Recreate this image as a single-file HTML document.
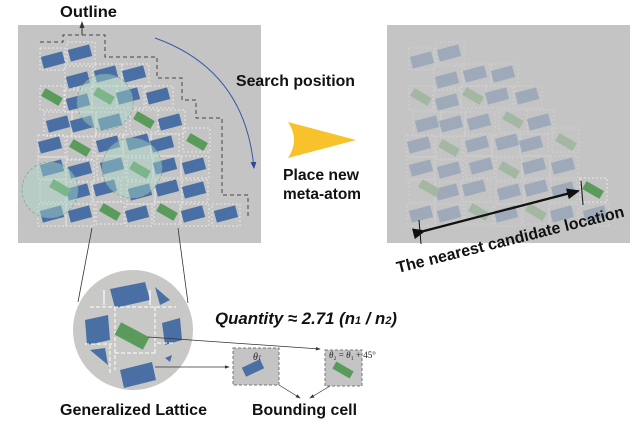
<!DOCTYPE html>
<html><head><meta charset="utf-8"><style>
html,body{margin:0;padding:0;background:#fff;}
svg{display:block;font-family:"Liberation Sans",Arial,sans-serif;}
</style></head><body>
<svg width="639" height="431" viewBox="0 0 639 431" xmlns="http://www.w3.org/2000/svg">
<defs>
<g id="cells">
<g fill="none" stroke="#f2f2f2" stroke-width="0.8" stroke-dasharray="2,2">
<rect x="40" y="48" width="25" height="22"/><rect x="67" y="42" width="28" height="22"/>
<rect x="65" y="66" width="28" height="22"/><rect x="95" y="64" width="27" height="22"/><rect x="122" y="64" width="27" height="22"/>
<rect x="40" y="86" width="24" height="24"/><rect x="65" y="90" width="27" height="22"/><rect x="92" y="86" width="25" height="22"/><rect x="117" y="86" width="27" height="22"/><rect x="146" y="86" width="27" height="22"/>
<rect x="44" y="112" width="28" height="24"/><rect x="72" y="112" width="24" height="24"/><rect x="96" y="112" width="30" height="24"/><rect x="130" y="110" width="28" height="22"/><rect x="158" y="110" width="27" height="24"/>
<rect x="38" y="135" width="27" height="22"/><rect x="67" y="137" width="26" height="22"/><rect x="95" y="134" width="28" height="22"/><rect x="123" y="134" width="28" height="22"/><rect x="151" y="134" width="28" height="22"/><rect x="183" y="128" width="27" height="24"/>
<rect x="38" y="157" width="28" height="22"/><rect x="66" y="160" width="28" height="22"/><rect x="97" y="156" width="28" height="22"/><rect x="127" y="158" width="26" height="22"/><rect x="153" y="156" width="28" height="22"/><rect x="181" y="156" width="28" height="22"/>
<rect x="40" y="180" width="26" height="22"/><rect x="66" y="182" width="26" height="22"/><rect x="93" y="180" width="28" height="22"/><rect x="127" y="182" width="28" height="22"/><rect x="155" y="180" width="27" height="22"/><rect x="182" y="180" width="26" height="22"/>
<rect x="38" y="204" width="28" height="22"/><rect x="66" y="204" width="28" height="22"/><rect x="96" y="202" width="28" height="22"/><rect x="126" y="204" width="26" height="22"/><rect x="154" y="202" width="26" height="22"/><rect x="181" y="204" width="28" height="22"/><rect x="212" y="204" width="28" height="22"/>
</g>
<g fill="#4a6fa5">
<rect x="-11" y="-6" width="22" height="12" transform="translate(53,60) rotate(-15)"/>
<rect x="-11" y="-6" width="22" height="12" transform="translate(80,53) rotate(-15)"/>
<rect x="-11" y="-6" width="22" height="12" transform="translate(78,80) rotate(-15)"/>
<rect x="-11" y="-6" width="22" height="12" transform="translate(106,74) rotate(-15)"/>
<rect x="-11" y="-6" width="22" height="12" transform="translate(134,74) rotate(-15)"/>
<rect x="-11" y="-6" width="22" height="12" transform="translate(78,102) rotate(-15)"/>
<rect x="-11" y="-6" width="22" height="12" transform="translate(128,96) rotate(-15)"/>
<rect x="-11" y="-6" width="22" height="12" transform="translate(158,96) rotate(-15)"/>
<rect x="-11" y="-6" width="22" height="12" transform="translate(58,124) rotate(-15)"/>
<rect x="-11" y="-6" width="22" height="12" transform="translate(82,124) rotate(-15)"/>
<rect x="-11" y="-6" width="22" height="12" transform="translate(110,122) rotate(-15)"/>
<rect x="-11" y="-6" width="22" height="12" transform="translate(170,122) rotate(-15)"/>
<rect x="-11" y="-6" width="22" height="12" transform="translate(50,145) rotate(-15)"/>
<rect x="-11" y="-6" width="22" height="12" transform="translate(108,144) rotate(-15)"/>
<rect x="-11" y="-6" width="22" height="12" transform="translate(138,142) rotate(-15)"/>
<rect x="-11" y="-6" width="22" height="12" transform="translate(162,144) rotate(-15)"/>
<rect x="-11" y="-6" width="22" height="12" transform="translate(52,168) rotate(-15)"/>
<rect x="-11" y="-6" width="22" height="12" transform="translate(80,170) rotate(-15)"/>
<rect x="-11" y="-6" width="22" height="12" transform="translate(112,166) rotate(-15)"/>
<rect x="-11" y="-6" width="22" height="12" transform="translate(165,166) rotate(-15)"/>
<rect x="-11" y="-6" width="22" height="12" transform="translate(194,166) rotate(-15)"/>
<rect x="-11" y="-6" width="22" height="12" transform="translate(78,192) rotate(-15)"/>
<rect x="-11" y="-6" width="22" height="12" transform="translate(105,188) rotate(-15)"/>
<rect x="-11" y="-6" width="22" height="12" transform="translate(140,192) rotate(-15)"/>
<rect x="-11" y="-6" width="22" height="12" transform="translate(167,188) rotate(-15)"/>
<rect x="-11" y="-6" width="22" height="12" transform="translate(194,190) rotate(-15)"/>
<rect x="-11" y="-6" width="22" height="12" transform="translate(52,214) rotate(-15)"/>
<rect x="-11" y="-6" width="22" height="12" transform="translate(80,214) rotate(-15)"/>
<rect x="-11" y="-6" width="22" height="12" transform="translate(137,214) rotate(-15)"/>
<rect x="-11" y="-6" width="22" height="12" transform="translate(193,214) rotate(-15)"/>
<rect x="-11" y="-6" width="22" height="12" transform="translate(226,214) rotate(-15)"/>
</g>
<g fill="#5a9a5a">
<rect x="-10" y="-4.5" width="20" height="9" transform="translate(52,97) rotate(30)"/>
<rect x="-10" y="-4.5" width="20" height="9" transform="translate(104,96) rotate(30)"/>
<rect x="-10" y="-4.5" width="20" height="9" transform="translate(144,120) rotate(30)"/>
<rect x="-10" y="-4.5" width="20" height="9" transform="translate(80,148) rotate(30)"/>
<rect x="-10" y="-4.5" width="20" height="9" transform="translate(197,142) rotate(30)"/>
<rect x="-10" y="-4.5" width="20" height="9" transform="translate(140,170) rotate(30)"/>
<rect x="-10" y="-4.5" width="20" height="9" transform="translate(60,188) rotate(30)"/>
<rect x="-10" y="-4.5" width="20" height="9" transform="translate(110,212) rotate(30)"/>
<rect x="-10" y="-4.5" width="20" height="9" transform="translate(167,212) rotate(30)"/>
</g>
</g>
<marker id="ab" markerWidth="8" markerHeight="8" refX="6" refY="4" orient="auto"><path d="M0,1 L7,4 L0,7 z" fill="#2a4a9a"/></marker>
<marker id="ak" markerWidth="8" markerHeight="8" refX="6" refY="4" orient="auto"><path d="M0,1.5 L7,4 L0,6.5 z" fill="#333"/></marker>
<marker id="big" markerWidth="6" markerHeight="6" refX="5" refY="3" orient="auto"><path d="M0,0.5 L6,3 L0,5.5 z" fill="#111"/></marker>
</defs>

<rect x="18" y="25" width="243" height="218" fill="#c4c4c4"/>
<use href="#cells"/>
<g fill="#a6d8c6" fill-opacity="0.45" stroke="#7a9a8a" stroke-width="0.6" stroke-dasharray="3,2">
<circle cx="105" cy="102" r="28"/><circle cx="132" cy="168" r="30"/><circle cx="50" cy="190" r="28"/>
</g>
<path d="M40,42 H63 V35 H105 V57 H157 V78 H182 V100 H196 V118 H222 V195 H248 V216" fill="none" stroke="#444" stroke-width="1" stroke-dasharray="4,3"/>
<line x1="82" y1="35" x2="82" y2="22" stroke="#333" stroke-width="1" marker-end="url(#ak)"/>
<text x="60" y="17" font-size="16" font-weight="bold" fill="#111" textLength="57" lengthAdjust="spacingAndGlyphs">Outline</text>
<path d="M155,38 Q245,70 254,168" fill="none" stroke="#3a5aa8" stroke-width="1" marker-end="url(#ab)"/>

<text x="236" y="86" font-size="16" font-weight="bold" fill="#111" textLength="119" lengthAdjust="spacingAndGlyphs">Search position</text>
<path d="M288,122 L356,140 L288,158 Q300,140 288,122 z" fill="#f7c22a"/>
<text x="283" y="180" font-size="16" font-weight="bold" fill="#111" textLength="76" lengthAdjust="spacingAndGlyphs">Place new</text>
<text x="283" y="199" font-size="16" font-weight="bold" fill="#111" textLength="78" lengthAdjust="spacingAndGlyphs">meta-atom</text>

<rect x="387" y="25" width="243" height="218" fill="#c4c4c4"/>
<g opacity="0.3" transform="translate(369,0)"><use href="#cells"/></g>
<rect x="580" y="178" width="27" height="24" fill="none" stroke="#f2f2f2" stroke-width="0.8" stroke-dasharray="2,2"/>
<rect x="-10" y="-4.5" width="20" height="9" transform="translate(593,190) rotate(30)" fill="#5a9a5a"/>
<line x1="419" y1="220" x2="421" y2="244" stroke="#111" stroke-width="1"/>
<line x1="581" y1="181" x2="583" y2="205" stroke="#111" stroke-width="1"/>
<line x1="424" y1="231" x2="578" y2="191" stroke="#111" stroke-width="2.2" marker-start="url(#big)" marker-end="url(#big)"/>
<text transform="translate(398,273) rotate(-14)" font-size="16" font-weight="bold" fill="#111" textLength="234" lengthAdjust="spacingAndGlyphs">The nearest candidate location</text>

<line x1="92" y1="228" x2="78" y2="302" stroke="#333" stroke-width="0.8"/>
<line x1="178" y1="228" x2="188" y2="303" stroke="#333" stroke-width="0.8"/>
<circle cx="133" cy="330" r="60" fill="#c8c8c6"/>
<clipPath id="cc"><circle cx="133" cy="330" r="60"/></clipPath>
<g clip-path="url(#cc)" fill="#4a6fa5">
<path d="M110,289 L145,282 L150,300 L115,308 z"/>
<path d="M155,287 L170,300 L160,305 z"/>
<path d="M85,320 L108,315 L110,340 L87,345 z"/>
<path d="M162,323 L180,318 L182,340 L165,345 z"/>
<path d="M90,350 L105,348 L108,365 z"/>
<path d="M120,370 L152,362 L156,380 L124,388 z"/>
<path d="M165,358 L172,355 L170,362 z"/>
</g>
<g clip-path="url(#cc)" fill="none" stroke="#fff" stroke-width="1" stroke-dasharray="4,2">
<line x1="90" y1="307" x2="176" y2="307"/><line x1="115" y1="307" x2="115" y2="370"/>
<line x1="155" y1="307" x2="155" y2="355"/><line x1="85" y1="344" x2="112" y2="344"/>
<line x1="115" y1="353" x2="155" y2="353"/><line x1="157" y1="343" x2="175" y2="343"/>
<line x1="110" y1="345" x2="110" y2="375"/>
</g>
<g stroke="#fff" stroke-width="1.2"><line x1="104" y1="290" x2="104" y2="305"/><line x1="150" y1="290" x2="150" y2="305"/></g>
<rect x="-16" y="-7" width="32" height="14" transform="translate(132,336) rotate(28)" fill="#5a9a5a"/>
<text x="60" y="415" font-size="16" font-weight="bold" fill="#111" textLength="147" lengthAdjust="spacingAndGlyphs">Generalized Lattice</text>

<text x="215" y="324" font-size="17" font-weight="bold" font-style="italic" fill="#111" textLength="182" lengthAdjust="spacingAndGlyphs">Quantity ≈ 2.71 (n<tspan font-size="11">1</tspan> / n<tspan font-size="11">2</tspan>)</text>

<line x1="148" y1="337" x2="320" y2="349" stroke="#333" stroke-width="0.7" marker-end="url(#ak)"/>
<line x1="155" y1="367" x2="229" y2="367" stroke="#333" stroke-width="0.7" marker-end="url(#ak)"/>

<rect x="233" y="348" width="46" height="37" fill="#c4c4c4" stroke="#777" stroke-dasharray="3,2"/>
<rect x="-10" y="-5" width="20" height="10" transform="translate(253,368) rotate(-25)" fill="#4a6fa5"/>
<text x="253" y="360" font-size="10" font-style="italic" font-family="Liberation Serif,serif" fill="#222">θ<tspan font-size="7">1</tspan></text>
<rect x="325" y="350" width="37" height="36" fill="#c4c4c4" stroke="#777" stroke-dasharray="3,2"/>
<rect x="-10" y="-4" width="20" height="8" transform="translate(343,370) rotate(30)" fill="#5a9a5a"/>
<text x="329" y="358" font-size="9" font-family="Liberation Serif,serif" fill="#222"><tspan font-style="italic">θ</tspan>₂ = <tspan font-style="italic">θ</tspan>₁ + 45°</text>

<line x1="279" y1="385" x2="300" y2="398" stroke="#333" stroke-width="0.7" marker-end="url(#ak)"/>
<line x1="330" y1="386" x2="310" y2="398" stroke="#333" stroke-width="0.7" marker-end="url(#ak)"/>
<text x="252" y="415" font-size="16" font-weight="bold" fill="#111" textLength="105" lengthAdjust="spacingAndGlyphs">Bounding cell</text>
</svg>
</body></html>
